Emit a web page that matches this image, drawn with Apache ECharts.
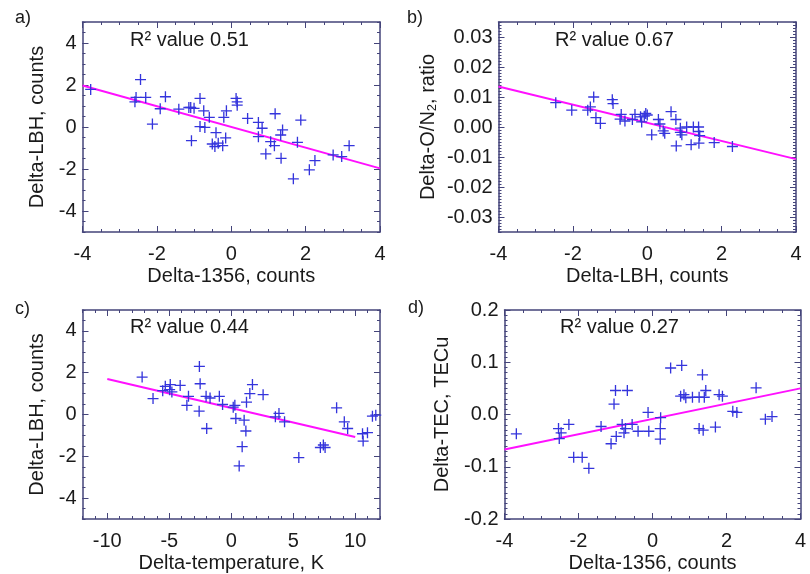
<!DOCTYPE html>
<html>
<head>
<meta charset="utf-8">
<script src="https://cdn.jsdelivr.net/npm/echarts@6/dist/echarts.min.js"></script>
<style>html,body{margin:0;padding:0;background:#fff;}#c{width:810px;height:574px;}</style>
</head>
<body>
<div id="c"></div>
<script>
// Panel a: Delta-1356 vs Delta-LBH
const aX = [-3.78,-2.44,-2.56,-2.59,-2.30,-2.12,-1.91,-1.77,-1.41,-1.09,-1.14,-1.00,-1.07,-0.84,-0.74,-0.84,-0.71,-0.59,-0.41,-0.51,-0.44,-0.35,-0.23,-0.15,-0.20,-0.13,0.13,0.16,0.16,0.44,0.73,0.73,0.83,0.93,1.06,1.18,1.16,1.33,1.38,1.34,1.67,1.78,1.87,2.10,2.25,2.74,2.97,3.17];
const aY = [1.79,2.26,1.41,1.20,1.41,0.14,0.87,1.44,0.85,0.93,0.93,0.89,-0.65,1.36,0.77,0.02,-0.02,0.46,-0.27,-0.81,-0.93,-0.77,-0.89,-0.52,0.46,0.77,1.36,1.20,1.04,0.41,0.22,-0.46,-0.06,-1.28,-0.70,0.63,-0.89,-0.38,-0.14,-1.49,-2.47,-0.73,0.33,-2.04,-1.60,-1.33,-1.41,-0.89];
const aFitX = [-4, 4];
const aFitY = [1.98, -1.97];
// Panel b: Delta-LBH vs Delta-O/N2
const bX = [-2.46,-2.03,-1.60,-1.53,-1.44,-1.38,-1.26,-0.94,-0.92,-0.70,-0.73,-0.60,-0.40,-0.33,-0.18,-0.15,-0.08,-0.04,0.00,0.12,0.30,0.34,0.43,0.47,0.64,0.77,0.78,0.89,0.93,0.89,1.06,1.18,1.24,1.38,1.38,1.41,1.39,1.80,2.29];
const bY = [0.0081,0.0056,0.0056,0.0067,0.0100,0.0031,0.0012,0.0091,0.0078,0.0042,0.0026,0.0020,0.0025,0.0042,0.0034,0.0017,0.0036,0.0045,0.0040,-0.0026,0.0025,0.0010,-0.0013,-0.0021,0.0051,0.0025,-0.0063,-0.0018,-0.0026,-0.0004,0.0,-0.0059,0.0,0.0,-0.0015,-0.0029,-0.0054,-0.0052,-0.0065];
const bFitX = [-4, 4];
const bFitY = [0.0135, -0.0107];
// Panel c: Delta-temperature vs Delta-LBH
const cX = [-7.19,-6.31,-5.53,-5.32,-4.92,-4.97,-4.79,-4.12,-3.45,-3.58,-2.57,-2.51,-2.59,-2.03,-1.71,-1.98,-0.96,-0.70,0.16,0.29,0.37,0.64,0.88,1.04,1.18,1.23,1.50,1.71,2.57,3.56,3.85,4.30,5.45,7.19,7.43,7.57,8.50,9.12,9.39,10.59,10.64,10.99,11.39,11.66];
const cY = [1.79,0.76,1.14,1.35,1.43,1.19,1.08,1.39,0.87,0.44,2.30,1.47,0.16,0.87,0.79,-0.67,0.87,0.48,0.35,0.44,-0.19,-2.46,-1.54,-0.27,-0.79,0.59,1.00,1.43,0.95,-0.11,0.05,-0.35,-2.06,-1.58,-1.46,-1.58,0.32,-0.35,-0.67,-0.92,-1.27,-0.87,-0.08,-0.03];
const cFitX = [-10, 10];
const cFitY = [1.70, -1.08];
// Panel d: Delta-1356 vs Delta-TEC
const dX = [-3.68,-2.54,-2.47,-2.52,-2.26,-2.13,-1.90,-1.72,-1.39,-1.12,-1.04,-1.00,-0.68,-0.98,-0.82,-0.77,-0.73,-0.55,-0.39,-0.12,-0.10,0.22,0.21,0.21,0.49,0.79,0.76,0.85,0.90,1.08,1.26,1.40,1.35,1.44,1.26,1.37,1.70,1.80,1.89,2.17,2.28,2.80,3.05,3.23];
const dY = [-0.037,-0.027,-0.035,-0.046,-0.019,-0.082,-0.082,-0.103,-0.023,-0.056,0.020,0.046,0.046,-0.042,-0.019,-0.035,-0.027,-0.019,-0.032,0.004,-0.032,-0.006,-0.027,-0.047,0.089,0.094,0.035,0.038,0.032,0.033,0.033,0.033,0.076,0.046,-0.027,-0.030,-0.024,0.038,0.035,0.006,0.004,0.051,-0.009,-0.004];
const dFitX = [-4, 4];
const dFitY = [-0.067, 0.050];

// tick labels
const ticksCounts4 = [-4, -2, 0, 2, 4];
const ticksTemp = [-10, -5, 0, 5, 10];
const ticksRatio = [-0.03, -0.02, -0.01, 0, 0.01, 0.02, 0.03];
const ticksTEC = [-0.2, -0.1, 0, 0.1, 0.2];
const panelLabels = ['a)', 'b)', 'c)', 'd)'];
const r2Labels = ['R\u00B2 value 0.51', 'R\u00B2 value 0.67', 'R\u00B2 value 0.44', 'R\u00B2 value 0.27'];

const FONT = '"Liberation Sans", Arial, Helvetica, sans-serif';
const AXC = '#44447a';
const TXT = '#1a1a1a';
const CROSS = 'path://M4.4,0H5.6V4.4H10V5.6H5.6V10H4.4V5.6H0V4.4H4.4Z';

const zip = (xs, ys) => xs.map((x, i) => [x, ys[i]]);

const grids = [
  {left: 82.5, top: 22, width: 297.5, height: 210},
  {left: 498.5, top: 22, width: 297.5, height: 210},
  {left: 82.5, top: 310, width: 297.5, height: 210},
  {left: 504.5, top: 310, width: 296, height: 210}
];

const xAxes = [];
const yAxes = [];

function baseAxis(gi, min, max, pos) {
  return {
    type: 'value', gridIndex: gi, min: min, max: max, position: pos,
    splitLine: {show: false}, minorSplitLine: {show: false}
  };
}

// main axis (line, major ticks, labels) + minor-tick axis, on both sides
function addAxes(list, dim, gi, min, max, ticks, minorStep, name, nameGap, fmt, rich) {
  const sides = dim === 'x' ? ['bottom', 'top'] : ['left', 'right'];
  const idx = list.length;
  sides.forEach((pos, k) => {
    const a = baseAxis(gi, min, max, pos);
    a.axisLine = {show: true, onZero: false, lineStyle: {color: AXC, width: 1.5}};
    a.axisTick = {show: true, inside: true, length: 6, customValues: ticks, lineStyle: {color: AXC, width: 1}};
    if (k === 0) {
      a.axisLabel = {show: true, fontSize: 20, color: TXT, fontFamily: FONT,
        margin: dim === 'x' ? 12 : 6, customValues: ticks, formatter: fmt};
      a.name = name; a.nameLocation = 'middle'; a.nameGap = nameGap;
      a.nameTextStyle = {fontSize: 20, color: TXT, fontFamily: FONT};
      if (rich) a.nameTextStyle.rich = rich;
    } else {
      a.axisLabel = {show: false};
    }
    list.push(a);
  });
  sides.forEach(pos => {
    const m = baseAxis(gi, min, max, pos);
    m.interval = minorStep;
    m.axisLine = {show: false, onZero: false};
    m.axisTick = {show: true, inside: true, length: 3, lineStyle: {color: AXC, width: 1}};
    m.axisLabel = {show: false};
    list.push(m);
  });
  return idx;
}

const fmtInt = v => String(Math.round(v));
const fmt2 = v => (v < -1e-9 ? '-' : '') + Math.abs(v).toFixed(2);
const fmt1 = v => (v < -1e-9 ? '-' : '') + Math.abs(v).toFixed(1);
const subRich = {
  n: {fontSize: 20, color: TXT, fontFamily: FONT},
  s: {fontSize: 13, color: TXT, fontFamily: FONT, verticalAlign: 'bottom', padding: [8, 0, 0, 0]}
};

const xIdx = [], yIdx = [];
// Panel a
xIdx.push(addAxes(xAxes, 'x', 0, -4, 4, ticksCounts4, 0.5, 'Delta-1356, counts', 34, fmtInt));
yIdx.push(addAxes(yAxes, 'y', 0, -5, 5, ticksCounts4, 0.5, 'Delta-LBH, counts', 35, fmtInt));
// Panel b
xIdx.push(addAxes(xAxes, 'x', 1, -4, 4, ticksCounts4, 0.5, 'Delta-LBH, counts', 34, fmtInt));
yIdx.push(addAxes(yAxes, 'y', 1, -0.035, 0.035, ticksRatio, 0.001, '{n|Delta-O/N}{s|2}{n|, ratio}', 60, fmt2, subRich));
// Panel c
xIdx.push(addAxes(xAxes, 'x', 2, -12, 12, ticksTemp, 1, 'Delta-temperature, K', 34, fmtInt));
yIdx.push(addAxes(yAxes, 'y', 2, -5, 5, ticksCounts4, 0.5, 'Delta-LBH, counts', 35, fmtInt));
// Panel d
xIdx.push(addAxes(xAxes, 'x', 3, -4, 4, ticksCounts4, 0.5, 'Delta-1356, counts', 34, fmtInt));
yIdx.push(addAxes(yAxes, 'y', 3, -0.2, 0.2, ticksTEC, 0.01, 'Delta-TEC, TECu', 52, fmt1));

const sets = [[aX, aY, aFitX, aFitY], [bX, bY, bFitX, bFitY], [cX, cY, cFitX, cFitY], [dX, dY, dFitX, dFitY]];
const series = [];
sets.forEach((s, i) => {
  series.push({
    type: 'line', xAxisIndex: xIdx[i], yAxisIndex: yIdx[i], data: zip(s[2], s[3]),
    showSymbol: false, symbol: 'none', lineStyle: {color: '#ff10ff', width: 2}, z: 2, silent: true, animation: false
  });
  series.push({
    type: 'scatter', xAxisIndex: xIdx[i], yAxisIndex: yIdx[i], data: zip(s[0], s[1]),
    symbol: CROSS, symbolSize: 11, itemStyle: {color: '#3434dc', opacity: 1}, z: 3, silent: true, animation: false
  });
});

const textPos = [[130, 40], [555, 40], [130, 327], [560, 327]];
const labPos = [[15, 18], [407, 18], [15, 309], [408, 308]];
const graphic = [];
textPos.forEach((p, i) => {
  graphic.push({type: 'text', x: p[0], y: p[1], style: {text: r2Labels[i], font: '20px ' + FONT, fill: TXT, textVerticalAlign: 'middle'}});
});
labPos.forEach((p, i) => {
  graphic.push({type: 'text', x: p[0], y: p[1], style: {text: panelLabels[i], font: '18px ' + FONT, fill: TXT, textVerticalAlign: 'middle'}});
});

const chart = echarts.init(document.getElementById('c'), null, {renderer: 'canvas'});
chart.setOption({
  animation: false,
  backgroundColor: '#ffffff',
  grid: grids,
  xAxis: xAxes,
  yAxis: yAxes,
  series: series,
  graphic: graphic
});
</script>
</body>
</html>
